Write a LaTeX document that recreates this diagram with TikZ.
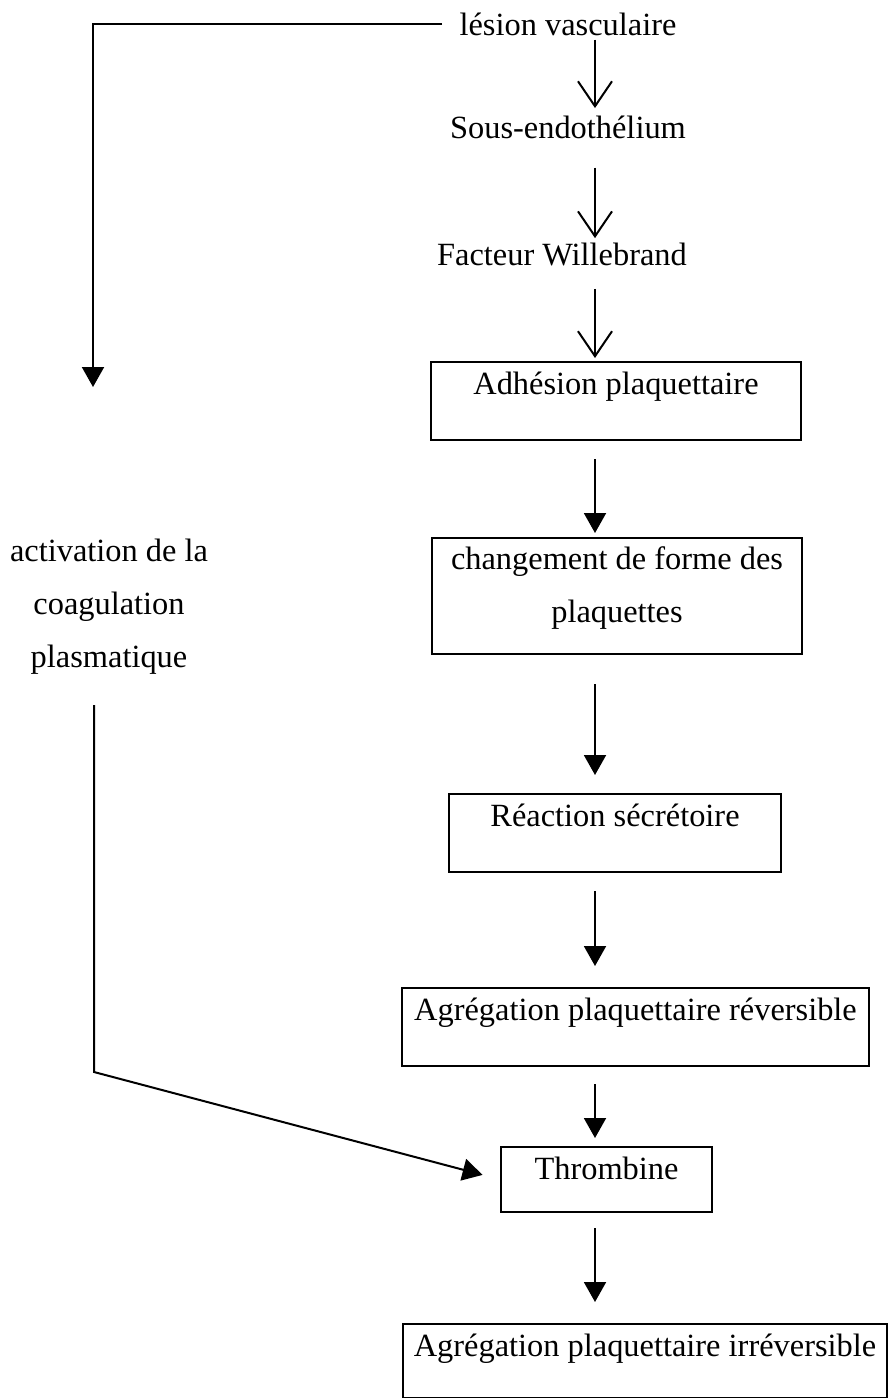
\documentclass[tikz,border=0pt]{standalone}
\usepackage{fontspec}
\setmainfont{Liberation Serif}
\usetikzlibrary{arrows.meta, positioning, calc}

\begin{document}
\begin{tikzpicture}[x=0.5pt, y=-0.5pt,
        every node/.style={font=\fontsize{16.2}{26.5}\selectfont},
        stepbox/.style={rectangle, draw, line width=1pt, inner sep=0pt, anchor=north, text height=16pt, text depth=23pt},
        lbl/.style={inner xsep=8.5pt, inner ysep=2pt},
        barb/.style={draw, line width=1pt, -{Straight Barb[length=12.5pt, width=17pt]}},
        line/.style={draw, line width=1pt, -{Triangle[length=10pt, width=11pt]}}]

        \useasboundingbox (0,0) rectangle (888,1398);

        % Nodes
        \node [lbl, anchor=base] (lesion) at (568,35) {lésion vasculaire};
        \node [lbl, anchor=base] (sous) at (568,138) {Sous-endothélium};
        \node [lbl, anchor=base] (facteur) at (562,265) {Facteur Willebrand};
        \node [stepbox, minimum width=185pt] (adhesion) at (616,361) {Adhésion plaquettaire};
        \node [stepbox, minimum width=185pt, align=center, text height=42pt, text depth=16pt] (forme) at (617,537) {changement de forme des\\plaquettes};
        \node [stepbox, minimum width=166pt] (secretion) at (615,793) {Réaction sécrétoire};
        \node [stepbox, minimum width=233.5pt] (reversible) at (635.5,987) {Agrégation plaquettaire réversible};
        \node [stepbox, minimum width=105.5pt, text depth=16.5pt] (thrombine) at (606.5,1146) {Thrombine};
        \node [stepbox, minimum width=242pt, text depth=21pt] (irreversible) at (645,1323) {Agrégation plaquettaire irréversible};
        \node [lbl, align=center, anchor=north] (coag) at (109,535) {activation de la\\coagulation\\plasmatique};

        % Spine and bends
        \coordinate (spine) at (595,0);
        \coordinate (drop) at (93,387);
        \coordinate (bend) at (94,1072);

        % Arrows
        \path [barb, shorten >=1.5pt] (lesion.south -| spine) -- (sous.north -| spine);
        \path [barb, shorten <=12.5pt] (sous.south -| spine) -- (facteur.north -| spine);
        \path [barb, shorten <=9.5pt, shorten >=1.5pt] (facteur.south -| spine) -- (adhesion.north -| spine);
        \path [line, shorten <=9pt, shorten >=2pt] (adhesion.south -| spine) -- (forme.north -| spine);
        \path [line, shorten <=14.5pt, shorten >=9pt] (forme.south -| spine) -- (secretion.north -| spine);
        \path [line, shorten <=9pt, shorten >=10.5pt] (secretion.south -| spine) -- (reversible.north -| spine);
        \path [line, shorten <=8.5pt, shorten >=4pt] (reversible.south -| spine) -- (thrombine.north -| spine);
        \path [line, shorten <=7.5pt, shorten >=10.5pt] (thrombine.south -| spine) -- (irreversible.north -| spine);

        % Coagulation branch
        \path [line] (lesion.west) -| (drop);
        \path [line, shorten <=13pt, shorten >=9pt] (coag.south -| bend) -- (bend) -- (thrombine.west);
    \end{tikzpicture}
\end{document}
